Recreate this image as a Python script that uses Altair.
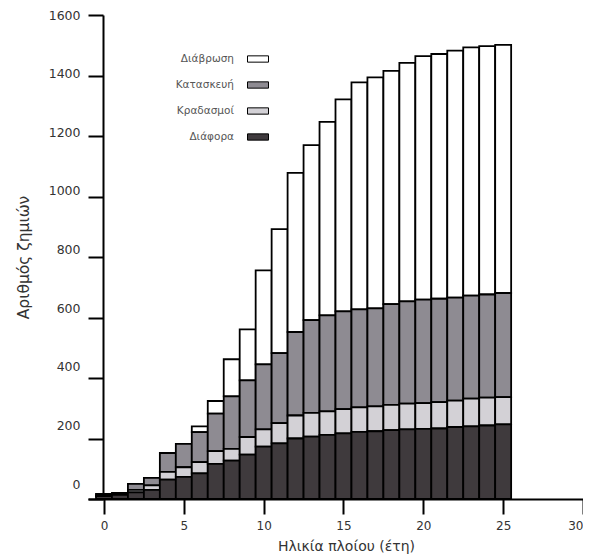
import altair as alt
import pandas as pd

# ---- data ----
ages = list(range(26))
diafora   = [10, 14, 22, 30, 64, 73, 85, 116, 127, 147, 173, 184, 200, 206, 212, 217, 222, 224, 228, 230, 232, 233, 238, 240, 243, 247]
kradasmoi = [2, 3, 8, 15, 26, 32, 37, 42, 39, 58, 57, 67, 76, 79, 78, 80, 81, 82, 83, 85, 85, 87, 87, 92, 92, 90]
kataskevi = [5, 3, 20, 25, 62, 77, 99, 124, 173, 187, 215, 231, 276, 306, 317, 323, 324, 324, 333, 338, 342, 342, 341, 340, 341, 344]
diavrosi  = [0, 0, 0, 0, 0, 0, 19, 42, 123, 169, 311, 410, 526, 579, 640, 701, 750, 764, 771, 789, 805, 809, 816, 821, 821, 820]

categories = ["Διάβρωση", "Κατασκευή", "Κραδασμοί", "Διάφορα"]
colors = ["#ffffff", "#8e8b92", "#d3d1d6", "#3f3a3d"]
stack_rank = {"Διάφορα": 0, "Κραδασμοί": 1, "Κατασκευή": 2, "Διάβρωση": 3}

x_ticks = [0, 5, 10, 15, 20, 25, 30]
y_ticks = [0, 200, 400, 600, 800, 1000, 1200, 1400, 1600]

series = {"Διάβρωση": diavrosi, "Κατασκευή": kataskevi, "Κραδασμοί": kradasmoi, "Διάφορα": diafora}
rows = []
for cat, vals in series.items():
    for a, v in zip(ages, vals):
        rows.append({"age": a, "cat": cat, "value": v, "rank": stack_rank[cat]})
df = pd.DataFrame(rows)

FONT = "DejaVu Sans"

chart = (
    alt.Chart(df)
    .transform_stack(
        stack="value", groupby=["age"], as_=["v0", "v1"],
        sort=[alt.SortField("rank", order="ascending")],
    )
    .transform_calculate(x0="datum.age - 0.5", x1="datum.age + 0.5")
    .mark_rect(stroke="black", strokeWidth=1.8)
    .encode(
        x=alt.X(
            "x0:Q",
            scale=alt.Scale(domain=[-1, 30], nice=False, zero=False),
            axis=alt.Axis(
                values=x_ticks, title="Ηλικία πλοίου (έτη)", grid=False,
                tickSize=15, tickWidth=2, domainWidth=2, domainColor="black", tickColor="black",
                labelFont=FONT, labelFontSize=12, labelColor="#333", labelPadding=6,
                labelFlush=True,
                titleFont=FONT, titleFontSize=14, titleFontWeight="normal", titleColor="#333",
                titlePadding=8, titleX=258,
            ),
        ),
        x2="x1:Q",
        y=alt.Y(
            "v0:Q",
            scale=alt.Scale(domain=[0, 1600], nice=False),
            axis=alt.Axis(
                values=y_ticks, format="d", title="Αριθμός ζημιών", grid=False, offset=-15,
                tickSize=15, tickWidth=2, domainWidth=2, domainColor="black", tickColor="black",
                labelFont=FONT, labelFontSize=12.5, labelColor="#333", labelPadding=8,
                labelOffset=alt.ExprRef("-15 + datum.value * 15 / 1600"),
                titleFont=FONT, titleFontSize=15.5, titleFontWeight="normal", titleColor="#333",
                titleX=-80, titleY=242, titleBaseline="middle", titleAngle=270,
            ),
        ),
        y2="v1:Q",
        color=alt.Color(
            "cat:N",
            scale=alt.Scale(domain=categories, range=colors),
            legend=alt.Legend(
                orient="none", legendX=159, legendY=33, title=None,
                symbolType="M-1,-0.3H1V0.3H-1Z", symbolSize=441,
                symbolStrokeColor="black", symbolStrokeWidth=1,
                labelAlign="right", labelOffset=alt.ExprRef("-35"), rowPadding=9, padding=0,
                labelFont=FONT, labelFontSize=10.5, labelColor="#555",
            ),
        ),
    )
    .properties(
        width=495, height=484,
        autosize=alt.AutoSizeParams(type="none"),
        padding={"left": 80, "top": 7, "right": 0, "bottom": 60},
    )
    .configure_view(stroke=None)
)

chart.save("out.html", embed_options={"renderer": "svg", "actions": False})
